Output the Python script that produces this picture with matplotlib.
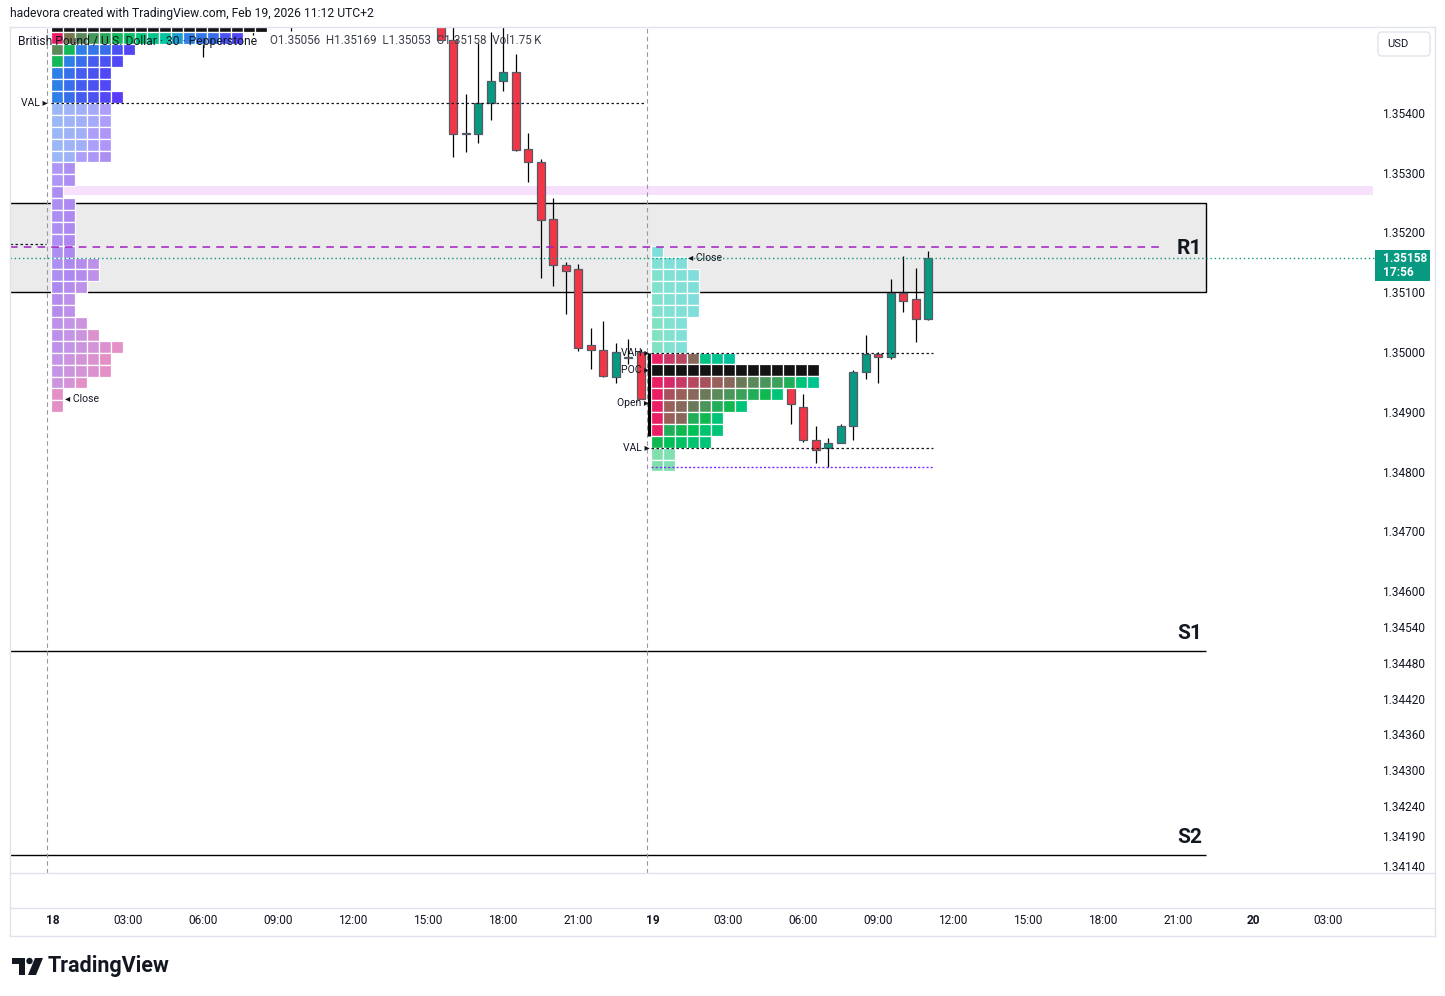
import matplotlib
matplotlib.use("Agg")
import numpy as np
import matplotlib.pyplot as plt
import matplotlib.colors as mcolors
import matplotlib.transforms as mtransforms
from matplotlib.patches import Rectangle, FancyBboxPatch, Polygon, Circle
from matplotlib.lines import Line2D

plt.rcParams['font.family'] = ['Roboto', 'DejaVu Sans']

# ---------------- data ----------------
# bar index = number of 30 min bars since Feb 18 00:00
bar_idx = [12, 16, 19, 31, 32, 33, 34, 35, 36, 37, 38, 39, 40, 41, 42, 43, 44, 45, 46, 47,
           59, 60, 61, 62, 63, 64, 65, 66, 67, 68, 69, 70]
opens = [1.35575, 1.35580, 1.35590, 1.35600, 1.35522, 1.35366, 1.35364, 1.35416, 1.35453, 1.35468,
         1.35340, 1.35318, 1.35223, 1.35145, 1.35139, 1.35011, 1.35004, 1.34958, 1.34992, 1.35000,
         1.34940, 1.34908, 1.34853, 1.34839, 1.34848, 1.34876, 1.34966, 1.34996, 1.34992, 1.35099,
         1.35088, 1.35056]
highs = [1.35610, 1.35620, 1.35640, 1.35620, 1.35600, 1.35432, 1.35517, 1.35535, 1.35600, 1.35498,
         1.35366, 1.35323, 1.35257, 1.35150, 1.35147, 1.35041, 1.35052, 1.35015, 1.35022, 1.35005,
         1.34960, 1.34930, 1.34876, 1.34856, 1.34879, 1.34970, 1.35028, 1.35000, 1.35122, 1.35160,
         1.35141, 1.35169]
lows = [1.35494, 1.35530, 1.35537, 1.35522, 1.35327, 1.35334, 1.35350, 1.35388, 1.35436, 1.35337,
        1.35285, 1.35124, 1.35110, 1.35064, 1.35002, 1.34971, 1.34958, 1.34948, 1.34980, 1.34921,
        1.34880, 1.34849, 1.34815, 1.34807, 1.34848, 1.34852, 1.34955, 1.34948, 1.34988, 1.35067,
        1.35016, 1.35053]
closes = [1.35560, 1.35600, 1.35570, 1.35522, 1.35365, 1.35365, 1.35417, 1.35453, 1.35468, 1.35338,
          1.35318, 1.35221, 1.35145, 1.35135, 1.35006, 1.35003, 1.34960, 1.35000, 1.34990, 1.34921,
          1.34913, 1.34852, 1.34836, 1.34848, 1.34876, 1.34966, 1.34996, 1.34991, 1.35099, 1.35085,
          1.35056, 1.35158]

tick_prices = [1.354, 1.353, 1.352, 1.351, 1.350, 1.349, 1.348, 1.347, 1.346,
               1.3454, 1.3448, 1.3442, 1.3436, 1.3430, 1.3424, 1.3419, 1.3414]
time_ticks = [0, 6, 12, 18, 24, 30, 36, 42, 48, 54, 60, 66, 72, 78, 84, 90, 96, 102]
time_labels = ["18", "03:00", "06:00", "09:00", "12:00", "15:00", "18:00", "21:00", "19",
               "03:00", "06:00", "09:00", "12:00", "15:00", "18:00", "21:00", "20", "03:00"]
session_starts = [-0.5, 47.5]

# TPO profiles: every row lists the 30 min periods that traded in that price bin
tpo_step = 0.000199
tpo18_top = 1.35556
tpo18_rows = [
    [0, 1, 2, 3, 4, 5, 6, 7, 8, 9, 10, 11, 13, 15, 17, 20, 23, 26],
    [0, 6, 12, 14, 16, 18, 20, 22, 24, 26, 28, 30, 31, 32, 35, 36],
    [12, 18, 30, 31, 32, 35, 36],
    [18, 30, 32, 34, 35, 36],
    [30, 32, 34, 35, 36],
    [30, 32, 34, 35, 36],
    [30, 32, 34, 35, 36, 37],
    [32, 33, 34, 35, 37],
    [32, 33, 34, 35, 37],
    [32, 33, 34, 37, 38],
    [32, 33, 34, 37, 38],
    [32, 33, 37, 38, 39],
    [38, 39], [38, 39], [39],
    [39, 40], [39, 40], [39, 40], [39, 40], [39, 40],
    [39, 40, 41, 42], [39, 40, 41, 42],
    [40, 41, 42], [41, 42], [41, 42],
    [42, 43, 44], [42, 43, 44, 46],
    [42, 43, 44, 45, 46, 47],
    [43, 44, 45, 46, 47], [43, 44, 45, 46, 47],
    [44, 45, 47], [47], [47],
]
tpo18_poc = 0
tpo18_va = (0, 7)

tpo19_top = 1.351782
tpo19_rows = [
    [22], [20, 21, 22],
    [19, 20, 21, 22], [19, 20, 21, 22], [19, 20, 21, 22], [19, 20, 21, 22],
    [17, 19, 21], [17, 19, 21], [17, 19, 21],
    [0, 2, 3, 6, 17, 18, 19],
    [0, 1, 2, 3, 4, 5, 6, 7, 8, 9, 10, 11, 16, 17],
    [0, 1, 2, 3, 4, 5, 6, 7, 8, 9, 10, 11, 16, 18],
    [0, 4, 5, 6, 7, 8, 9, 10, 11, 12, 16],
    [0, 5, 6, 7, 9, 11, 12, 16],
    [0, 5, 6, 11, 12, 16],
    [0, 11, 12, 13, 15, 16],
    [12, 13, 14, 15, 16],
    [13, 14], [13, 14],
]
tpo19_poc = 10
tpo19_va = (9, 17)
open19 = 1.34915
ib19 = (1.34998, 1.34859)

r1_zone = (1.3510, 1.3525)
s1_level = 1.34500
s2_level = 1.34158
zone_end_bar = 92.2
pink_zone = (1.35262, 1.35278)
pivot_dash = 1.35175
prev_level = 1.35180

# colour stops (period -> colour)
stops18 = [(0, '#e91e63'), (6, '#76764f'), (12, '#5a8a5a'), (18, '#12b85a'), (22, '#00c87a'),
           (26, '#00c4a0'), (28, '#1a9fd0'), (30, '#2f7fe8'), (33, '#3d66ee'), (35, '#4a52f2'),
           (37, '#5a3cf8'), (40, '#5a10e0'), (43, '#8a2ad0'), (47, '#c8208f')]
stops19 = [(0, '#e91e63'), (1, '#d8286a'), (2, '#c83a66'), (3, '#b84860'), (4, '#a8505c'),
           (5, '#986058'), (6, '#88685a'), (7, '#6a7a58'), (8, '#5a8a5a'), (9, '#4a965a'),
           (10, '#3aa05a'), (11, '#20ae58'), (12, '#10b850'), (13, '#00c058'), (16, '#00c478'),
           (18, '#00c490'), (20, '#00c0a8'), (22, '#00bcb4')]

UP, DOWN = '#089981', '#f23645'
TXT = '#131722'
GRID = '#e0e3eb'

W, H = 1445, 996
X_LEFT, X_RIGHT = -3.44, 105.76
Y_LOW, Y_HIGH = 1.341281, 1.355439
CELL_W = 0.96


def period_color(stops, p):
    ps = [s[0] for s in stops]
    cols = [mcolors.to_rgb(s[1]) for s in stops]
    return tuple(np.interp(p, ps, [c[j] for c in cols]) for j in range(3))


def pastel(rgb, a=0.5):
    return tuple(1 - a * (1 - v) for v in rgb)


fig = plt.figure(figsize=(W / 100, H / 100), dpi=100)
ident = mtransforms.IdentityTransform()

ax = fig.add_axes([10 / W, 1 - 873 / H, 1365 / W, 846 / H])
ax.set_xlim(X_LEFT, X_RIGHT)
ax.set_ylim(Y_LOW, Y_HIGH)
for s in ax.spines.values():
    s.set_visible(False)
ax.set_xticks([])
ax.yaxis.tick_right()
ax.set_yticks(tick_prices)
ax.set_yticklabels([f"{p:.5f}" for p in tick_prices], fontsize=8.6, color=TXT)
ax.tick_params(axis='y', length=0, pad=5)

# zones and levels
ax.add_patch(Rectangle((X_LEFT - 1, r1_zone[0]), zone_end_bar - X_LEFT + 1, r1_zone[1] - r1_zone[0],
                       facecolor='#ebebeb', edgecolor='black', lw=1, zorder=1))
ax.hlines([s1_level, s2_level], X_LEFT, zone_end_bar, color='black', lw=1, zorder=1)
tpo18_x0 = session_starts[0] + 0.32
tpo19_x0 = session_starts[1] + 0.34
ax.fill_between([tpo18_x0, X_RIGHT - 0.15], pink_zone[0], pink_zone[1], color='#f7e0fb', lw=0, zorder=1)
for k in session_starts:
    ax.axvline(k, color='#9598a1', lw=0.8, ls=(0, (4, 3)), zorder=1.5)

ax.hlines(pivot_dash, X_LEFT, zone_end_bar - 3.6, color='#a020c0', lw=1.1, ls=(0, (5, 4)), zorder=6)
ax.hlines(closes[-1], X_LEFT, X_RIGHT, color=UP, lw=1, ls=(0, (1, 2)), zorder=6)
ax.hlines(prev_level, X_LEFT, session_starts[0] - 0.1, color=TXT, lw=0.9, ls=(0, (2, 2)), zorder=6)

for lab, lvl, va in [("R1", pivot_dash - 0.00002, 'center'), ("S1", s1_level, 'bottom'),
                     ("S2", s2_level, 'bottom')]:
    ax.text(zone_end_bar - 0.25, lvl + (0.00013 if va == 'bottom' else 0.0), lab, ha='right', va=va,
            fontsize=15, fontweight='bold', color=TXT, zorder=7)

# candles
for k, o, h, l, c in zip(bar_idx, opens, highs, lows, closes):
    col = UP if c > o else DOWN
    ax.vlines(k, l, h, color='black', lw=0.9, zorder=3)
    ax.add_patch(Rectangle((k - 0.32, min(o, c)), 0.64, max(abs(c - o), 0.000015),
                           facecolor=col, edgecolor='#555a66', lw=0.9, zorder=3.1))


def draw_tpo(rows, top, x0, stops, va, poc):
    for r, periods in enumerate(rows):
        y0 = top - (r + 1) * tpo_step
        in_va = va[0] <= r < va[1]
        for i, p in enumerate(periods):
            if r == poc:
                fc = '#131313'
            else:
                fc = period_color(stops, p)
                if not in_va:
                    fc = pastel(fc)
            ax.add_patch(Rectangle((x0 + i * CELL_W, y0), CELL_W, tpo_step, facecolor=fc,
                                   edgecolor='white', lw=0.9, zorder=4))


draw_tpo(tpo18_rows, tpo18_top, tpo18_x0, stops18, tpo18_va, tpo18_poc)
draw_tpo(tpo19_rows, tpo19_top, tpo19_x0, stops19, tpo19_va, tpo19_poc)

# initial balance bar of the 19th
ax.vlines(session_starts[1] + 0.14, ib19[1], ib19[0], color='black', lw=2.3, zorder=4)

dot = dict(lw=0.9, ls=(0, (2, 2)), zorder=5)
val18 = tpo18_top - tpo18_va[1] * tpo_step
vah19 = tpo19_top - tpo19_va[0] * tpo_step
val19 = tpo19_top - tpo19_va[1] * tpo_step
poc19 = tpo19_top - (tpo19_poc + 0.5) * tpo_step
low19 = min(lows[bar_idx.index(59):])
end19 = bar_idx[-1] + 0.4
ax.hlines(val18, tpo18_x0, session_starts[1] - 0.15, color=TXT, **dot)
ax.hlines([vah19, val19], tpo19_x0, end19, color=TXT, **dot)
ax.hlines(low19, tpo19_x0, end19, color='#7b2cff', lw=1, ls=(0, (1.5, 1.5)), zorder=5)

lab_kw = dict(fontsize=7.5, color=TXT, zorder=7, va='center')
ax.text(session_starts[0] + 0.1, val18, "VAL \u25b8", ha='right', **lab_kw)
close18 = closes[bar_idx.index(47)]
ax.text(tpo18_x0 + 1.15, close18, "\u25c2 Close", ha='left', **lab_kw)
r_edge = session_starts[1] + 0.22
ax.text(r_edge, vah19, "VAH \u25b8", ha='right', **lab_kw)
ax.text(r_edge, poc19, "POC \u25b8", ha='right', **lab_kw)
ax.text(r_edge, open19, "Open \u25b8", ha='right', **lab_kw)
ax.text(r_edge, val19, "VAL \u25b8", ha='right', **lab_kw)
ax.text(tpo19_x0 + 3.0, closes[-1], "\u25c2 Close", ha='left', **lab_kw)

# time axis
tb = mtransforms.blended_transform_factory(ax.transData, fig.transFigure)
for k, lab in zip(time_ticks, time_labels):
    ax.text(k, 1 - 921 / H, lab, transform=tb, ha='center', va='center', fontsize=8.6, color=TXT,
            fontweight='bold' if ':' not in lab else 'normal', clip_on=False)


# frame (pixel coordinates)
def pline(x0, y0, x1, y1, color=GRID, lw=1):
    fig.add_artist(Line2D([x0, x1], [H - y0, H - y1], transform=ident, color=color, lw=lw))


pline(10, 27, 1435, 27)
pline(10, 873, 1435, 873)
pline(10, 908, 1435, 908)
pline(10, 936, 1435, 936)
pline(10, 27, 10, 936)
pline(1435, 27, 1435, 936)

# header and legend
fig.text(10 / W, 1 - 14 / H, "hadevora created with TradingView.com, Feb 19, 2026 11:12 UTC+2",
         fontsize=8.7, color=TXT, va='center')
fig.text(18 / W, 1 - 41 / H, "British Pound / U.S. Dollar \u00b7 30 \u00b7 Pepperstone",
         fontsize=8.7, color=TXT, va='center')
fig.text(270 / W, 1 - 41 / H,
         f"O{opens[-1]:.5f}  H{highs[-1]:.5f}  L{lows[-1]:.5f}  C{closes[-1]:.5f}  Vol1.75\u2009K",
         fontsize=8.4, color='#3b3f4a', va='center')

# USD box
fig.add_artist(FancyBboxPatch((1378, H - 56), 52, 24, boxstyle='round,pad=0,rounding_size=4',
                              transform=ident, facecolor='white', edgecolor=GRID, lw=1))
fig.text(1387 / W, 1 - 44 / H, "USD", fontsize=8, color=TXT, va='center')

# last price tag
fig.add_artist(Rectangle((1375, H - 281), 55, 31, transform=ident, facecolor=UP, edgecolor='none'))
fig.text(1383 / W, 1 - 258 / H, f"{closes[-1]:.5f}", fontsize=8.6, color='white', fontweight='bold', va='center')
fig.text(1383 / W, 1 - 272 / H, "17:56", fontsize=8.6, color='white', fontweight='bold', va='center')

# TradingView logo
fig.add_artist(Polygon([(12, H - 958), (25, H - 958), (25, H - 975), (19, H - 975), (19, H - 964),
                        (12, H - 964)], closed=True, transform=ident, facecolor=TXT, edgecolor='none'))
fig.add_artist(Circle((29.5, H - 961), 3.2, transform=ident, facecolor=TXT, edgecolor='none'))
fig.add_artist(Polygon([(35, H - 958), (43, H - 958), (36, H - 975), (28, H - 975)], closed=True,
                       transform=ident, facecolor=TXT, edgecolor='none'))
fig.text(48 / W, 1 - 966 / H, "TradingView", fontsize=15.5, fontweight='bold', color=TXT, va='center')

fig.savefig("out.png", dpi=100, facecolor='white')
